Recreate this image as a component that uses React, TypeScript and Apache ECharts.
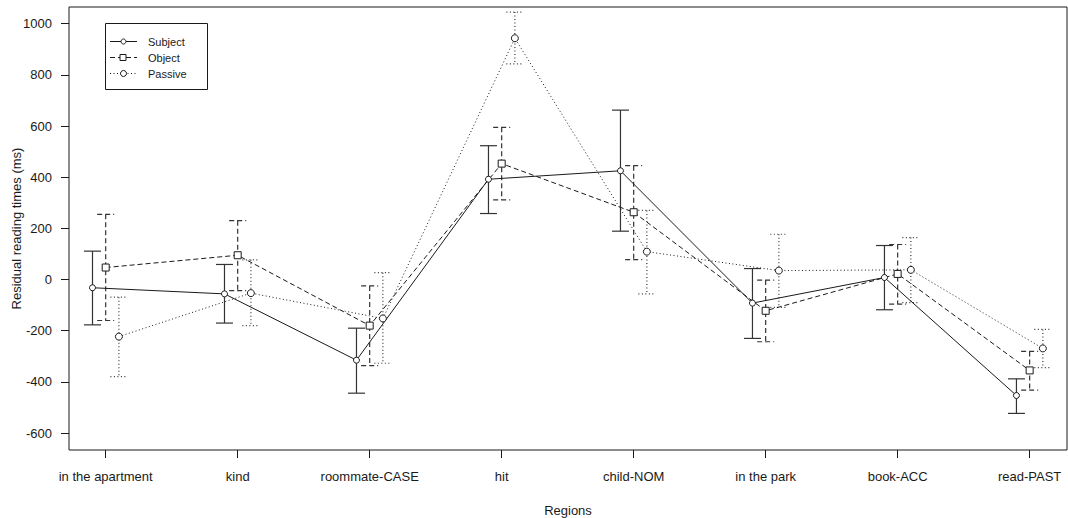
import React, { useEffect, useRef } from "react";
import * as echarts from "echarts";

const categories = ["in the apartment", "kind", "roommate-CASE", "hit", "child-NOM", "in the park", "book-ACC", "read-PAST"];
const subjectMean = [-32, -56, -315, 392, 425, -92, 8, -453];
const subjectUpper = [111, 59, -190, 523, 662, 43, 133, -388];
const subjectLower = [-177, -170, -444, 258, 189, -230, -118, -523];
const objectMean = [47, 95, -180, 453, 263, -122, 22, -355];
const objectUpper = [255, 230, -25, 595, 445, -2, 137, -281];
const objectLower = [-160, -43, -336, 311, 78, -243, -96, -432];
const passiveMean = [-223, -53, -152, 943, 109, 35, 38, -269];
const passiveUpper = [-69, 77, 27, 1045, 270, 177, 164, -195];
const passiveLower = [-379, -180, -327, 843, -56, -109, -90, -344];
const yTicks = [-600, -400, -200, 0, 200, 400, 600, 800, 1000];
const xTicks = [1, 2, 3, 4, 5, 6, 7, 8];

const FONT = "Liberation Sans, Arial, sans-serif";
const INK = "#1a1a1a";

type Cond = {
  name: string;
  mean: number[];
  upper: number[];
  lower: number[];
  offset: number;
  dash: number[] | null;
  symbol: string;
  size: number;
};

const conds: Cond[] = [
  { name: "Subject", mean: subjectMean, upper: subjectUpper, lower: subjectLower, offset: -0.1, dash: null, symbol: "circle", size: 6 },
  { name: "Object", mean: objectMean, upper: objectUpper, lower: objectLower, offset: 0, dash: [5, 3], symbol: "rect", size: 7 },
  { name: "Passive", mean: passiveMean, upper: passiveUpper, lower: passiveLower, offset: 0.1, dash: [1, 2.5], symbol: "circle", size: 7 },
];

export default function App() {
  const ref = useRef<HTMLDivElement>(null);
  useEffect(() => {
    if (!ref.current) return;
    const chart = echarts.init(ref.current, null, { renderer: "svg" });
    const series: any[] = [];
    conds.forEach((c) => {
      series.push({
        type: "line",
        name: c.name,
        data: c.mean.map((m, i) => [xTicks[i] + c.offset, m]),
        symbol: c.symbol,
        symbolSize: c.size,
        showAllSymbol: true,
        lineStyle: { color: INK, width: 1, type: c.dash ? c.dash : "solid" },
        itemStyle: { color: "#fff", borderColor: INK, borderWidth: 1 },
        z: 3,
      });
      series.push({
        type: "custom",
        name: c.name + " err",
        data: c.mean.map((_, i) => [xTicks[i] + c.offset, c.lower[i], c.upper[i]]),
        encode: { x: 0, y: [1, 2] },
        z: 2,
        renderItem: (params: any, api: any) => {
          const x = api.value(0);
          const lo = api.value(1);
          const hi = api.value(2);
          const pt = api.coord([x, hi]);
          const pb = api.coord([x, lo]);
          const style: any = { stroke: "#333", lineWidth: 1.2, fill: null };
          if (c.dash) style.lineDash = c.dash;
          const hw = 8.5;
          return {
            type: "group",
            children: [
              { type: "line", shape: { x1: pt[0], y1: pt[1], x2: pb[0], y2: pb[1] }, style },
              { type: "line", shape: { x1: pt[0] - hw, y1: pt[1], x2: pt[0] + hw, y2: pt[1] }, style },
              { type: "line", shape: { x1: pb[0] - hw, y1: pb[1], x2: pb[0] + hw, y2: pb[1] }, style },
            ],
          };
        },
      });
    });

    const legendRows = [41, 57, 73];
    const legendGraphics: any[] = [
      {
        type: "rect",
        shape: { x: 105.5, y: 23.5, width: 102, height: 66 },
        style: { fill: "#fff", stroke: INK, lineWidth: 1 },
        z: 10,
      },
    ];
    conds.forEach((c, i) => {
      const y = legendRows[i] + 0.5;
      const ls: any = { stroke: INK, lineWidth: 1 };
      if (c.dash) ls.lineDash = c.dash;
      legendGraphics.push({ type: "line", shape: { x1: 110, y1: y, x2: 137, y2: y }, style: ls, z: 11 });
      if (c.symbol === "rect") {
        legendGraphics.push({ type: "rect", shape: { x: 120, y: y - 3, width: 6, height: 6 }, style: { fill: "#fff", stroke: INK, lineWidth: 1 }, z: 12 });
      } else {
        legendGraphics.push({ type: "circle", shape: { cx: 123.5, cy: y, r: c.size / 2 - 0.5 }, style: { fill: "#fff", stroke: INK, lineWidth: 1 }, z: 12 });
      }
      legendGraphics.push({
        type: "text",
        x: 148,
        y: y,
        style: { text: c.name, fill: INK, font: `11px ${FONT}`, verticalAlign: "middle" },
        z: 12,
      });
    });

    chart.setOption({
      animation: false,
      backgroundColor: "#fff",
      textStyle: { fontFamily: FONT },
      grid: {
        left: 69,
        top: 7,
        right: 1,
        bottom: 68,
        containLabel: false,
        outerBoundsMode: "none",
        show: true,
        borderColor: INK,
        borderWidth: 1,
        backgroundColor: "transparent",
      },
      xAxis: {
        type: "value",
        min: 0.722,
        max: 8.283,
        name: "Regions",
        nameLocation: "middle",
        nameGap: 54,
        nameMoveOverlap: false,
        nameTextStyle: { color: INK, fontSize: 13, fontFamily: FONT },
        axisLine: { show: false, onZero: false },
        splitLine: { show: false },
        axisTick: { show: true, length: 8, inside: false, customValues: xTicks, lineStyle: { color: INK } },
        axisLabel: {
          customValues: xTicks,
          margin: 20,
          color: INK,
          fontSize: 13,
          fontFamily: FONT,
          formatter: (v: number) => categories[Math.round(v) - 1] ?? "",
        },
      },
      yAxis: {
        type: "value",
        min: -666,
        max: 1065,
        name: "Residual reading times (ms)",
        nameLocation: "middle",
        nameGap: 46,
        nameMoveOverlap: false,
        nameTextStyle: { color: INK, fontSize: 13, fontFamily: FONT },
        axisLine: { show: false, onZero: false },
        splitLine: { show: false },
        axisTick: { show: true, length: 8, inside: false, customValues: yTicks, lineStyle: { color: INK } },
        axisLabel: {
          customValues: yTicks,
          margin: 17,
          color: INK,
          fontSize: 13,
          fontFamily: FONT,
          formatter: (v: number) => String(v),
        },
      },
      series,
      graphic: legendGraphics,
    });
    return () => chart.dispose();
  }, []);
  return (
    <div
      ref={ref}
      style={{ position: "fixed", left: 0, top: 0, width: 1068, height: 518, background: "#fff" }}
    />
  );
}
